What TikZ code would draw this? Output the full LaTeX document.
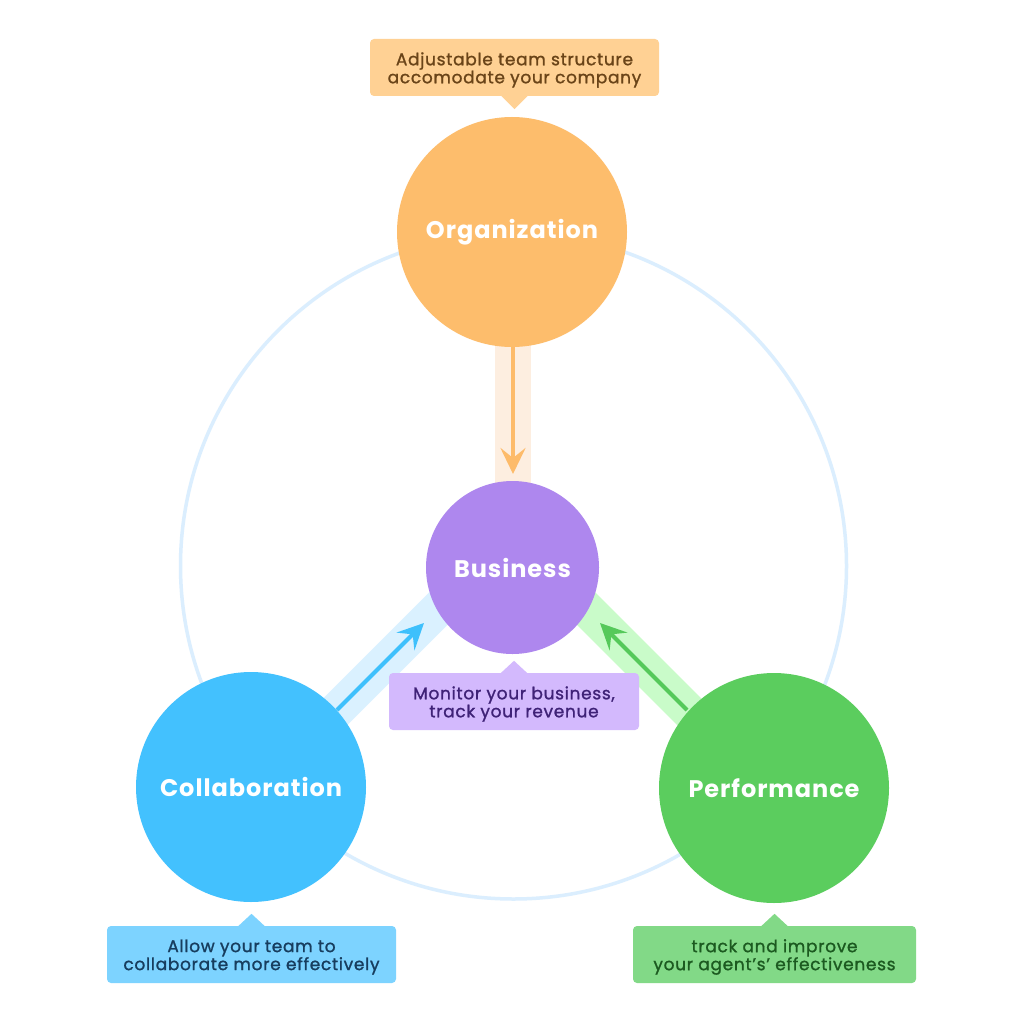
\documentclass[tikz,border=0pt]{standalone}
\usepackage{fontspec}
\setmainfont{Poppins}
\newfontfamily\calloutfont{Poppins}[FakeBold=1.2,LetterSpace=4]
\newfontfamily\hubfont{Poppins}[LetterSpace=4]
\usetikzlibrary{arrows.meta,calc,backgrounds}
\definecolor{orgC}{HTML}{FDBD6C}
\definecolor{busC}{HTML}{AE87EE}
\definecolor{colC}{HTML}{43C1FE}
\definecolor{perC}{HTML}{5BCD5E}
\definecolor{orgL}{HTML}{FFD194}
\definecolor{busL}{HTML}{D3B9FD}
\definecolor{colL}{HTML}{7DD3FF}
\definecolor{perL}{HTML}{82D987}
\definecolor{orgT}{HTML}{6A4418}
\definecolor{busT}{HTML}{3F2277}
\definecolor{colT}{HTML}{173D5E}
\definecolor{perT}{HTML}{1C5A20}
\definecolor{orgB}{HTML}{FDEEE0}
\definecolor{colB}{HTML}{DAF1FF}
\definecolor{perB}{HTML}{C9FBC9}
\definecolor{orgA}{HTML}{FDBB6A}
\definecolor{colA}{HTML}{3EC0FC}
\definecolor{perA}{HTML}{55C95A}
\definecolor{ringC}{HTML}{DBEEFE}
\begin{document}
\begin{tikzpicture}[x=1pt,y=-1pt,
  hub/.style={circle, inner sep=0pt, text=white, font=\hubfont\bfseries\fontsize{24}{28}\selectfont},
  callout/.style={rectangle, rounded corners=4pt, inner sep=0pt, minimum height=57pt},
  notetext/.style={inner sep=0pt, align=center, font=\calloutfont\fontsize{17}{18}\selectfont},
  band/.style={line width=36pt},
  flow/.style={line width=4pt, -{Stealth[length=26pt,width=25pt,inset=10pt]}},
]
\useasboundingbox (0,0) rectangle (1024,1024);

% hubs
\node[hub, fill=orgC, minimum size=230pt] (org) at (512,232) {Organization};
\node[hub, fill=busC, minimum size=173pt] (bus) at (512.5,567.5) {Business};
\node[hub, fill=colC, minimum size=230pt] (col) at (251,787) {Collaboration};
\node[hub, fill=perC, minimum size=230pt] (per) at (774,788) {Performance};

% band and arrow end points
\coordinate (ob1) at (513,300);
\coordinate (ob2) at (513,520);
\coordinate (cb1) at (300,747);
\coordinate (cb2) at (480,567);
\coordinate (pb1) at (724,746.5);
\coordinate (pb2) at (544,566.5);
\coordinate (oa1) at (513,347);
\coordinate (oa2) at (513,474);
\coordinate (ca1) at (337,710);
\coordinate (ca2) at (424,623);
\coordinate (pa1) at (687,710);
\coordinate (pa2) at (600,623);

\begin{scope}[on background layer]
  \fill[white] (0,0) rectangle (1024,1024);
  \draw[ringC, line width=3.5pt] (513.5,566) circle[radius=333pt];
  \draw[band, orgB] (ob1) -- (ob2);
  \draw[band, colB] (cb1) -- (cb2);
  \draw[band, perB] (pb1) -- (pb2);
\end{scope}

% arrows
\draw[flow, orgA] (oa1) -- (oa2);
\draw[flow, colA] (ca1) -- (ca2);
\draw[flow, perA] (pa1) -- (pa2);

% callouts
\node[callout, fill=orgL, minimum width=289pt] (orgnote) at (514.5,67.5) {};
\fill[orgL] ($(orgnote.south)+(-14,-1)$) -- ($(orgnote.south)+(0,13)$) -- ($(orgnote.south)+(14,-1)$) -- cycle;
\node[notetext, text=orgT] (orgtext) at ($(orgnote.center)+(0,2.5)$) {Adjustable team structure\\accomodate your company};

\node[callout, fill=busL, minimum width=250pt] (busnote) at (514,701.5) {};
\fill[busL] ($(busnote.north)+(-14,1)$) -- ($(busnote.north)+(0,-12)$) -- ($(busnote.north)+(14,1)$) -- cycle;
\node[notetext, text=busT] (bustext) at ($(busnote.center)+(0,2.5)$) {Monitor your business,\\track your revenue};

\node[callout, fill=colL, minimum width=289pt] (colnote) at (251.5,954.5) {};
\fill[colL] ($(colnote.north)+(-14,1)$) -- ($(colnote.north)+(0,-12)$) -- ($(colnote.north)+(14,1)$) -- cycle;
\node[notetext, text=colT] (coltext) at ($(colnote.center)+(0,2.5)$) {Allow your team to\\collaborate more effectively};

\node[callout, fill=perL, minimum width=283pt] (pernote) at (774.5,954.5) {};
\fill[perL] ($(pernote.north)+(-14,1)$) -- ($(pernote.north)+(0,-12)$) -- ($(pernote.north)+(14,1)$) -- cycle;
\node[notetext, text=perT] (pertext) at ($(pernote.center)+(0,2.5)$) {track and improve\\your agent’s’ effectiveness};
\end{tikzpicture}
\end{document}
